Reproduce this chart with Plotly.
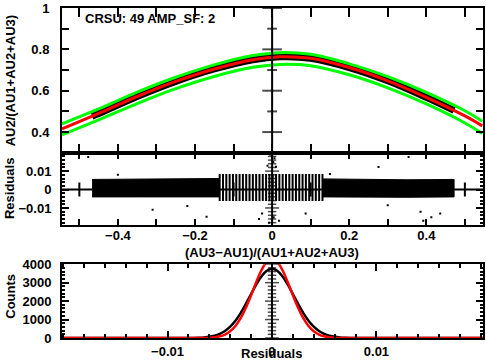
import plotly.graph_objects as go

# ---------------- data ----------------
# top panel: fitted curve and its envelope
fit_x = [-0.545, -0.45, -0.35, -0.25, -0.15, -0.05, 0.02, 0.1, 0.2, 0.3, 0.4, 0.5, 0.545]
fit_y = [0.415, 0.490, 0.572, 0.645, 0.705, 0.750, 0.764, 0.757, 0.712, 0.648, 0.568, 0.478, 0.430]
upper_y = [0.440, 0.512, 0.593, 0.665, 0.725, 0.770, 0.784, 0.776, 0.730, 0.668, 0.592, 0.503, 0.452]
lower_y = [0.386, 0.459, 0.538, 0.610, 0.669, 0.713, 0.727, 0.721, 0.677, 0.614, 0.536, 0.444, 0.393]
# measured points (dense cloud) along the curve
data_x = [-0.467, -0.45, -0.35, -0.25, -0.15, -0.05, 0.02, 0.1, 0.2, 0.3, 0.4, 0.472]
data_y = [0.477, 0.490, 0.572, 0.645, 0.705, 0.750, 0.764, 0.757, 0.712, 0.648, 0.568, 0.505]

# middle panel: residual cloud envelope (dense core)
res_left_x = [-0.467, -0.35, -0.25, -0.137]
res_left_hi = [0.0055, 0.0056, 0.0057, 0.0060]
res_left_lo = [-0.0040, -0.0040, -0.0038, -0.0040]
res_right_x = [0.130, 0.25, 0.35, 0.472]
res_right_hi = [0.0058, 0.0055, 0.0053, 0.0055]
res_right_lo = [-0.0040, -0.0040, -0.0042, -0.0040]
# striped (discrete-position) central region
stripe_x = [-0.136, -0.1274, -0.1188, -0.1102, -0.1016, -0.093, -0.0844, -0.0758, -0.0672,
            -0.0586, -0.05, -0.0414, -0.0328, -0.0242, -0.0156, -0.007, 0.0016, 0.0102,
            0.0188, 0.0274, 0.036, 0.0446, 0.0532, 0.0618, 0.0704, 0.079, 0.0876, 0.0962,
            0.1048, 0.1134, 0.122, 0.1306]
stripe_hi = 0.0085
stripe_lo = -0.0062
# scattered outliers
out_x = [-0.477, -0.31, -0.17, 0.276, 0.354, 0.436, 0.087, 0.385, 0.392, 0.413, -0.026, -0.034,
         0.018, 0.010, -0.40, -0.22, 0.15, 0.30, -0.005, 0.006, -0.008, 0.004, 0.003, -0.012]
out_y = [0.0177, -0.011, -0.0148, 0.0123, 0.0177, -0.013, -0.013, -0.012, -0.017, -0.015, -0.013, -0.016,
         -0.017, 0.0124, 0.0080, -0.0090, 0.0085, -0.0085, 0.0190, 0.0170, -0.0180, -0.0150, 0.0150, 0.0130]

# bottom panel: histogram of residuals and Gaussian fit
hist_x = [-0.0201, -0.008, -0.0075, -0.007, -0.0065, -0.006, -0.0055, -0.005, -0.0045, -0.004, -0.0035,
          -0.003, -0.0025, -0.002, -0.0015, -0.001, -0.0005, 0.0, 0.0005, 0.001, 0.0015, 0.002,
          0.0025, 0.003, 0.0035, 0.004, 0.0045, 0.005, 0.0055, 0.006, 0.0065, 0.007, 0.0075, 0.008, 0.0202]
hist_counts = [0, 2, 6, 15, 31, 63, 121, 220, 378, 612, 935, 1351, 1846, 2382, 2905, 3350, 3645, 3750,
               3645, 3350, 2905, 2382, 1846, 1351, 935, 612, 378, 220, 121, 63, 31, 15, 6, 2, 0]
gauss_counts = [0, 0, 1, 2, 6, 17, 40, 91, 189, 364, 650, 1072, 1640, 2319, 3039, 3685, 4137, 4300,
                4137, 3685, 3039, 2319, 1640, 1072, 650, 364, 189, 91, 40, 17, 6, 2, 1, 0, 0]

label_text = "CRSU: 49 AMP_SF: 2"

# ---------------- figure ----------------
FONT = dict(family="Liberation Sans, Arial, sans-serif", size=13, color="black", weight="bold")
BLACK = "black"
GREEN = "#00ff00"
RED = "#ff0000"

fig = go.Figure()

# top panel
fig.add_trace(go.Scatter(x=data_x, y=data_y, mode="lines", line=dict(color=BLACK, width=7, shape="spline"),
                         xaxis="x", yaxis="y", showlegend=False, hoverinfo="skip"))
fig.add_trace(go.Scatter(x=fit_x, y=upper_y, mode="lines", line=dict(color=GREEN, width=3, shape="spline"),
                         xaxis="x", yaxis="y", showlegend=False))
fig.add_trace(go.Scatter(x=fit_x, y=lower_y, mode="lines", line=dict(color=GREEN, width=3, shape="spline"),
                         xaxis="x", yaxis="y", showlegend=False))
fig.add_trace(go.Scatter(x=fit_x, y=fit_y, mode="lines", line=dict(color=RED, width=3, shape="spline"),
                         xaxis="x", yaxis="y", showlegend=False))
# zero axis (x=0) in the top panel
top_ticks = [0.3, 0.4, 0.5, 0.6, 0.7, 0.8, 0.9, 1.0]
fig.add_trace(go.Scatter(x=[0, 0], y=[0.3, 1.0], mode="lines", line=dict(color=BLACK, width=2),
                         xaxis="x", yaxis="y", showlegend=False, hoverinfo="skip"))
fig.add_trace(go.Scatter(x=[0] * len(top_ticks), y=top_ticks, mode="markers",
                         marker=dict(symbol="line-ew", size=[7, 14, 7, 14, 7, 14, 7, 14],
                                     line=dict(color=BLACK, width=2)),
                         xaxis="x", yaxis="y", showlegend=False, hoverinfo="skip"))

# middle panel: residuals
def band(xs, hi, lo):
    return xs + xs[::-1], hi + lo[::-1]

for bx, bh, bl in [(res_left_x, res_left_hi, res_left_lo), (res_right_x, res_right_hi, res_right_lo)]:
    px, py = band(bx, bh, bl)
    fig.add_trace(go.Scatter(x=px, y=py, mode="lines", fill="toself", fillcolor=BLACK,
                             line=dict(color=BLACK, width=1), xaxis="x2", yaxis="y2",
                             showlegend=False, hoverinfo="skip"))
sx, sy = [], []
for v in stripe_x:
    sx += [v, v, None]
    sy += [stripe_lo, stripe_hi, None]
fig.add_trace(go.Scatter(x=sx, y=sy, mode="lines", line=dict(color=BLACK, width=2),
                         xaxis="x2", yaxis="y2", showlegend=False, hoverinfo="skip"))
fig.add_trace(go.Scatter(x=out_x, y=out_y, mode="markers", marker=dict(color=BLACK, size=2, symbol="square"),
                         xaxis="x2", yaxis="y2", showlegend=False, hoverinfo="skip"))
# zero axes in the residual panel
mid_xt = [-0.5, -0.4, -0.3, -0.2, -0.1, 0.1, 0.2, 0.3, 0.4, 0.5]
fig.add_trace(go.Scatter(x=[-0.545, 0.547], y=[0, 0], mode="lines", line=dict(color=BLACK, width=2),
                         xaxis="x2", yaxis="y2", showlegend=False, hoverinfo="skip"))
fig.add_trace(go.Scatter(x=mid_xt, y=[0] * len(mid_xt), mode="markers",
                         marker=dict(symbol="line-ns", size=10, line=dict(color=BLACK, width=2)),
                         xaxis="x2", yaxis="y2", showlegend=False, hoverinfo="skip"))
mid_yt = [-0.018, -0.016, -0.014, -0.012, -0.01, -0.008, -0.006, -0.004, -0.002, 0.0,
          0.002, 0.004, 0.006, 0.008, 0.01, 0.012, 0.014, 0.016, 0.018, 0.02]
fig.add_trace(go.Scatter(x=[0, 0], y=[-0.0192, 0.02], mode="lines", line=dict(color=BLACK, width=2),
                         xaxis="x2", yaxis="y2", showlegend=False, hoverinfo="skip"))
fig.add_trace(go.Scatter(x=[0] * len(mid_yt), y=mid_yt, mode="markers",
                         marker=dict(symbol="line-ew", size=[10 if abs(round(v * 100) - v * 100) < 1e-6 else 6 for v in mid_yt],
                                     line=dict(color=BLACK, width=1.5)),
                         xaxis="x2", yaxis="y2", showlegend=False, hoverinfo="skip"))

# bottom panel: histogram
fig.add_trace(go.Scatter(x=hist_x, y=hist_counts, mode="lines", line=dict(color=BLACK, width=2.5, shape="spline"),
                         xaxis="x3", yaxis="y3", showlegend=False))
fig.add_trace(go.Scatter(x=hist_x, y=gauss_counts, mode="lines", line=dict(color=RED, width=2.5, shape="spline"),
                         xaxis="x3", yaxis="y3", showlegend=False))
bot_yt = list(range(0, 4001, 200))
fig.add_trace(go.Scatter(x=[0, 0], y=[0, 4000], mode="lines", line=dict(color=BLACK, width=2),
                         xaxis="x3", yaxis="y3", showlegend=False, hoverinfo="skip"))
fig.add_trace(go.Scatter(x=[0] * len(bot_yt), y=bot_yt, mode="markers",
                         marker=dict(symbol="line-ew", size=[10 if v % 1000 == 0 else 6 for v in bot_yt],
                                     line=dict(color=BLACK, width=1.5)),
                         xaxis="x3", yaxis="y3", showlegend=False, hoverinfo="skip"))

AX = dict(showline=True, linecolor=BLACK, linewidth=2, mirror="ticks", ticks="inside",
          tickcolor=BLACK, tickwidth=1.5, showgrid=False, zeroline=False, tickfont=FONT)

H_TOP, H_BOT = 4, 23
PLOT_H = 361 - H_TOP - H_BOT
def yf(py):
    return (361 - H_BOT - py) / PLOT_H
def xf(px):
    return (px - 62) / 423

fig.update_layout(
    width=486, height=361,
    margin=dict(l=62, r=1, t=H_TOP, b=H_BOT),
    paper_bgcolor="white", plot_bgcolor="white",
    font=FONT,
    xaxis=dict(AX, domain=[0, 1], anchor="y", range=[-0.545, 0.547],
               tickvals=[-0.5, -0.4, -0.3, -0.2, -0.1, 0, 0.1, 0.2, 0.3, 0.4, 0.5],
               showticklabels=False, ticklen=9),
    yaxis=dict(AX, domain=[yf(150.5), 1], anchor="x", range=[0.3, 1.0],
               tickvals=[0.3, 0.4, 0.5, 0.6, 0.7, 0.8, 0.9, 1.0],
               ticktext=["", "0.4", "", "0.6", "", "0.8", "", "1"], ticklen=7,
               ticklabelstandoff=8),
    xaxis2=dict(AX, domain=[0, 1], anchor="y2", range=[-0.545, 0.547],
                tickvals=[-0.5, -0.4, -0.3, -0.2, -0.1, 0, 0.1, 0.2, 0.3, 0.4, 0.5],
                ticktext=["", "\u22120.4", "", "\u22120.2", "", "0", "", "0.2", "", "0.4", ""],
                ticklen=6, ticklabelstandoff=-2),
    yaxis2=dict(AX, domain=[yf(223.5), yf(150.5)], anchor="x2", range=[-0.0192, 0.02],
                tickvals=[-0.01, 0, 0.01], ticktext=["\u22120.01", "0", "0.01"], ticklen=7,
                minor=dict(ticks="inside", dtick=0.002, ticklen=3, tickcolor=BLACK, showgrid=False),
                ticklabelstandoff=6),
    xaxis3=dict(AX, domain=[0, 1], anchor="y3", range=[-0.0201, 0.0202],
                tickvals=[-0.01, 0, 0.01], ticktext=["\u22120.01", "0", "0.01"], ticklen=7,
                minor=dict(ticks="inside", dtick=0.002, ticklen=4, tickcolor=BLACK, showgrid=False),
                ticklabelstandoff=0),
    yaxis3=dict(AX, domain=[0, yf(263.3)], anchor="x3", range=[0, 4000],
                tickvals=[0, 1000, 2000, 3000, 4000], ticklen=7,
                minor=dict(ticks="inside", dtick=200, ticklen=3, tickcolor=BLACK, showgrid=False),
                ticklabelstandoff=6),
    annotations=[
        dict(text=label_text, xref="paper", yref="paper", x=xf(83), y=yf(15), xanchor="left",
             yanchor="middle", showarrow=False, font=FONT),
        dict(text="AU2/(AU1+AU2+AU3)", xref="paper", yref="paper", x=xf(10), y=yf(78), textangle=-90,
             xanchor="center", yanchor="middle", showarrow=False, font=FONT),
        dict(text="Residuals", xref="paper", yref="paper", x=xf(10), y=yf(187), textangle=-90,
             xanchor="center", yanchor="middle", showarrow=False, font=FONT),
        dict(text="Counts", xref="paper", yref="paper", x=xf(10), y=yf(296), textangle=-90,
             xanchor="center", yanchor="middle", showarrow=False, font=FONT),
        dict(text="(AU3\u2212AU1)/(AU1+AU2+AU3)", xref="paper", yref="paper", x=xf(272.5), y=yf(251),
             xanchor="center", yanchor="middle", showarrow=False, font=FONT),
        dict(text="Residuals", xref="paper", yref="paper", x=xf(272.5), y=yf(353.5), xanchor="center",
             yanchor="middle", showarrow=False, font=FONT),
    ],
)

fig.write_html("out.html", config={"displayModeBar": False},
               post_script="document.body.style.margin='0';document.body.style.overflow='hidden';")
